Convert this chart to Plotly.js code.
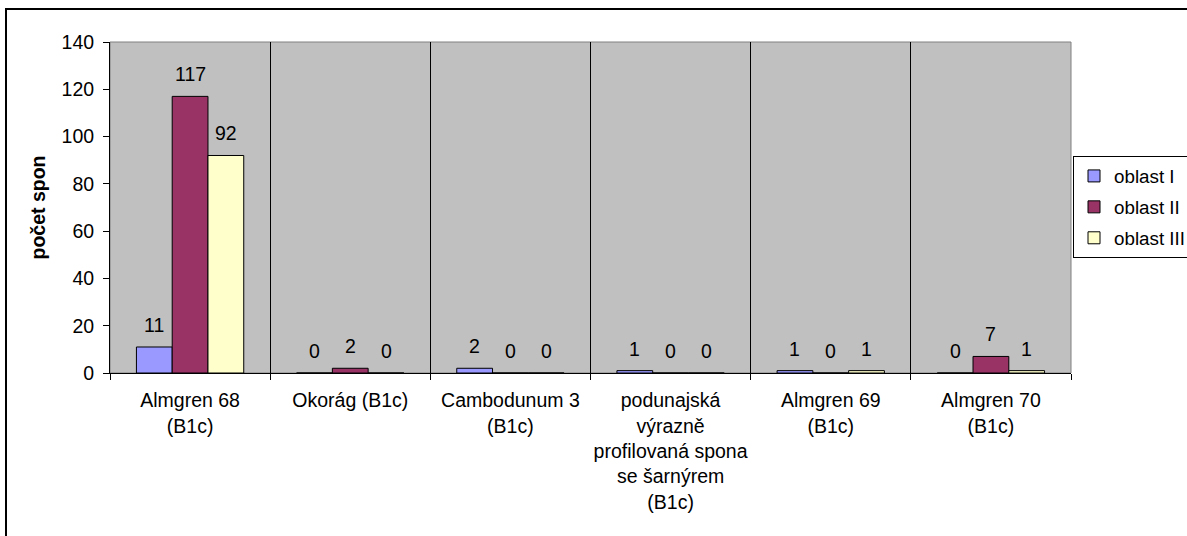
<!DOCTYPE html>
<html>
<head>
<meta charset="utf-8">
<script src="https://cdn.plot.ly/plotly-3.0.1.min.js"></script>
<style>
  body { margin: 0; background: white; }
  #chart { width: 1187px; height: 536px; }
  #frame {
    position: absolute; left: 5px; top: 8px;
    width: 2000px; height: 2000px;
    border: 2px solid black; pointer-events: none;
  }
</style>
</head>
<body>
<div id="chart"></div>
<div id="frame"></div>
<script>
const categories = [
  'Almgren 68<br>(B1c)',
  'Okorág (B1c)',
  'Cambodunum 3<br>(B1c)',
  'podunajská<br>výrazně<br>profilovaná spona<br>se šarnýrem<br>(B1c)',
  'Almgren 69<br>(B1c)',
  'Almgren 70<br>(B1c)'
];
const seriesNames = ['oblast I', 'oblast II', 'oblast III'];
const oblastI = [11, 0, 2, 1, 1, 0];
const oblastII = [117, 2, 0, 0, 0, 7];
const oblastIII = [92, 0, 0, 0, 1, 1];
const colors = ['#9999FF', '#993366', '#FFFFCC'];

const font = { family: '"Liberation Sans", Arial, sans-serif', size: 19.5, color: 'black' };
const W = 1187, H = 536;
const margin = { l: 110, r: 116, t: 42, b: 163, autoexpand: false };
const bargap = 0.33;

const values = [oblastI, oblastII, oblastIII];

const data = values.map((vals, i) => ({
  type: 'bar',
  name: seriesNames[i],
  x: categories,
  y: vals,
  legendgroup: 'g' + i,
  marker: { color: colors[i], line: { color: 'black', width: 1 } },
  hoverinfo: 'name+y'
}));

// value labels, placed over each bar of the group
const plotW = W - margin.l - margin.r;
const barW = plotW / categories.length * (1 - bargap) / values.length;
const annotations = [];
values.forEach((vals, i) => {
  vals.forEach((v, j) => {
    annotations.push({
      x: categories[j], y: v, xref: 'x', yref: 'y',
      text: String(v), showarrow: false,
      yanchor: 'bottom', yshift: 9,
      xshift: (i - 1) * barW,
      font: font
    });
  });
});

const layout = {
  width: W,
  height: H,
  margin: margin,
  paper_bgcolor: 'white',
  plot_bgcolor: '#C0C0C0',
  font: font,
  barmode: 'group',
  bargap: bargap,
  bargroupgap: 0,
  showlegend: true,
  legend: {
    x: (1073 - margin.l) / plotW,
    y: 0.655,
    xanchor: 'left',
    yanchor: 'top',
    bgcolor: 'white',
    bordercolor: 'black',
    borderwidth: 1,
    tracegroupgap: 3.5,
    font: Object.assign({}, font, { size: 18.8 })
  },
  xaxis: {
    type: 'category',
    range: [-0.5, categories.length - 0.5],
    tickson: 'boundaries',
    tickangle: 0,
    ticks: 'outside',
    ticklen: 6,
    tickcolor: 'black',
    showgrid: true,
    gridcolor: 'black',
    gridwidth: 1,
    showline: true,
    linecolor: 'black',
    linewidth: 1,
    tickfont: font,
    ticklabelstandoff: 10,
    fixedrange: true
  },
  yaxis: {
    range: [0, 140],
    dtick: 20,
    ticks: 'outside',
    ticklen: 6,
    tickcolor: 'black',
    showgrid: false,
    zeroline: false,
    showline: true,
    linecolor: 'black',
    linewidth: 1,
    tickfont: font,
    ticklabelstandoff: 5,
    title: {
      text: 'počet spon',
      font: { family: font.family, size: 19.5, color: 'black', weight: 'bold' },
      standoff: 10
    },
    fixedrange: true
  },
  shapes: [{
    type: 'rect', xref: 'paper', yref: 'paper',
    x0: 0, x1: 1, y0: 0, y1: 1,
    line: { color: '#808080', width: 1 },
    layer: 'below'
  }],
  annotations: annotations
};

Plotly.newPlot('chart', data, layout, { displayModeBar: false, staticPlot: true });
</script>
</body>
</html>
